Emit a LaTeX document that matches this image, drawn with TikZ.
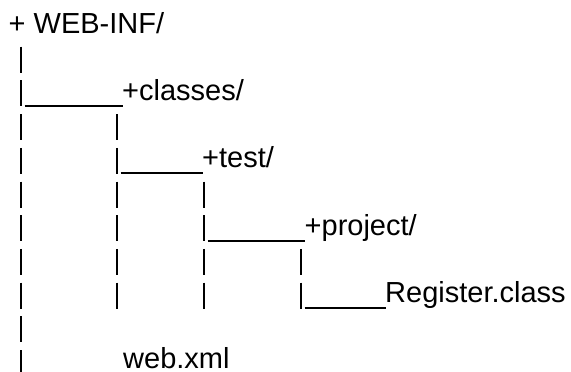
\documentclass[tikz,border=0pt]{standalone}
\usepackage{fontspec}
\setmainfont{Liberation Sans}
\begin{document}
\begin{tikzpicture}[x=1pt,y=-1pt,
  lbl/.style={anchor=base west, inner sep=0pt, font=\fontsize{29}{34}\selectfont},
  bar/.style={line width=2pt, dash pattern=on 26pt off 7.7pt},
  uline/.style={line width=2pt}]
\useasboundingbox (0,0) rectangle (571,372);
% labels (baselines b_n = 33 + (n-1)*33.7)
\node[lbl] (root)     at (8.5,33)    {+ WEB-INF/};
\node[lbl] (classes)  at (122,100.4) {+classes/};
\node[lbl] (test)     at (202,167.8) {+test/};
\node[lbl] (project)  at (304.5,235.2) {+project/};
\node[lbl] (register) at (385,302.6) {Register.class};
\node[lbl] (webxml)   at (123,368.5) {web.xml};
% columns of bars
\coordinate (c1t) at (21,46.7);  \coordinate (c1b) at (21,376);
\coordinate (c2t) at (117,114.1); \coordinate (c2b) at (117,308.6);
\coordinate (c3t) at (204,181.5); \coordinate (c3b) at (204,308.6);
\coordinate (c4t) at (301,248.9); \coordinate (c4b) at (301,308.6);
\draw[bar] (c1t) -- (c1b);
\draw[bar] (c2t) -- (c2b);
\draw[bar] (c3t) -- (c3b);
\draw[bar] (c4t) -- (c4b);
% underscores
\path ([yshift=-5.5pt,xshift=0.5pt]classes.base west) coordinate (u3);
\path ([yshift=-5.5pt,xshift=0.5pt]test.base west) coordinate (u5);
\path ([yshift=-5.5pt,xshift=0.5pt]project.base west) coordinate (u7);
\path ([yshift=-5.5pt,xshift=0.5pt]register.base west) coordinate (u9);
\draw[uline] (u3 -| c1t) ++(3.5,0) -- (u3);
\draw[uline] (u5 -| c2t) ++(3.5,0) -- (u5);
\draw[uline] (u7 -| c3t) ++(3.5,0) -- (u7);
\draw[uline] (u9 -| c4t) ++(3.5,0) -- (u9);
\end{tikzpicture}
\end{document}
